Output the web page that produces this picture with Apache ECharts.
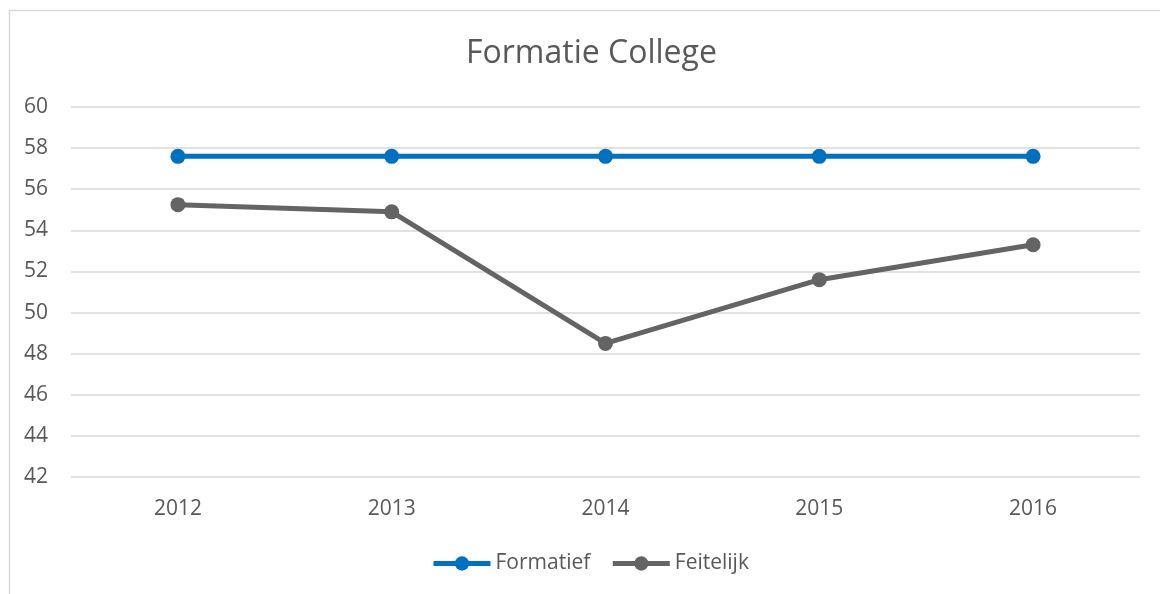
<!DOCTYPE html>
<html>
<head>
<meta charset="utf-8">
<script src="https://cdn.jsdelivr.net/npm/echarts@6/dist/echarts.min.js"></script>
<style>
  html, body { margin: 0; padding: 0; background: #fff; }
  #chart { width: 1160px; height: 594px; }
</style>
</head>
<body>
<div id="chart"></div>
<script>
const years = ['2012', '2013', '2014', '2015', '2016'];
const formatief = [57.6, 57.6, 57.6, 57.6, 57.6];
const feitelijk = [55.25, 54.9, 48.5, 51.6, 53.3];

const textColor = '#595959';
const font = 'Open Sans';

let myChart = echarts.init(document.getElementById('chart'));
let option = {
    backgroundColor: '#fff',
    title: {
        text: 'Formatie College',
        left: 461,
        top: 33,
        textStyle: {
            color: textColor,
            fontFamily: font,
            fontWeight: 'normal',
            fontSize: 32
        }
    },
    graphic: [{
        type: 'rect',
        left: 7,
        top: 8,
        shape: {width: 1200, height: 700},
        style: {fill: 'none', stroke: '#d9d9d9', lineWidth: 1.5},
        silent: true
    }],
    legend: {
        bottom: 15,
        left: 426,
        itemWidth: 57,
        itemHeight: 18,
        itemGap: 20,
        lineStyle: {width: 5},
        textStyle: {color: textColor, fontFamily: font, fontSize: 21},
        data: ['Formatief', 'Feitelijk']
    },
    grid: {left: 71, right: 20, top: 107, bottom: 117},
    xAxis: {
        type: 'category',
        data: years,
        axisLine: {show: false},
        axisTick: {show: false},
        axisLabel: {color: textColor, fontFamily: font, fontSize: 21, margin: 22}
    },
    yAxis: {
        type: 'value',
        min: 42,
        max: 60,
        interval: 2,
        axisLine: {show: false},
        axisTick: {show: false},
        axisLabel: {color: textColor, fontFamily: font, fontSize: 21, margin: 23},
        splitLine: {lineStyle: {color: '#d9d9d9', width: 1.5}}
    },
    series: [
        {
            name: 'Formatief',
            type: 'line',
            data: formatief,
            symbol: 'circle',
            symbolSize: 15,
            lineStyle: {color: '#0070c0', width: 5},
            itemStyle: {color: '#0070c0'}
        },
        {
            name: 'Feitelijk',
            type: 'line',
            data: feitelijk,
            symbol: 'circle',
            symbolSize: 15,
            lineStyle: {color: '#646464', width: 5},
            itemStyle: {color: '#646464'}
        }
    ]
};
myChart.setOption(option, true);
</script>
</body>
</html>
